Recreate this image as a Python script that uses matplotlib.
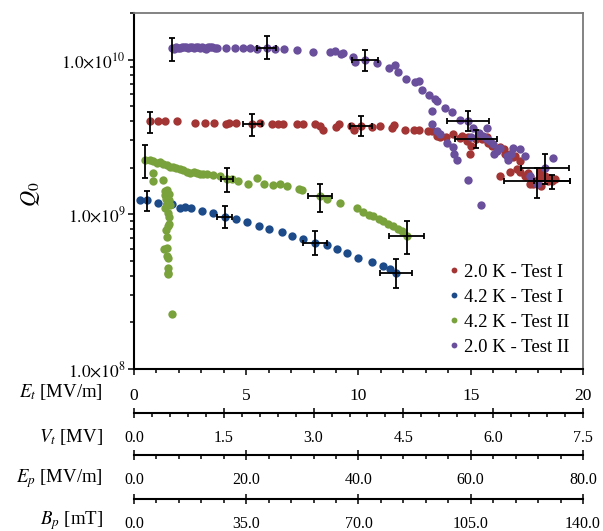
import numpy as np
import matplotlib
matplotlib.use("Agg")
import matplotlib.pyplot as plt
from matplotlib.ticker import MultipleLocator, FuncFormatter, LogLocator, NullFormatter

plt.rcParams['font.family'] = ['Liberation Serif', 'DejaVu Serif']
plt.rcParams['mathtext.fontset'] = 'stix'

# accelerating field E_t [MV/m] and Q0 (in units of 1e9)
e_red = [0.71, 1.07, 1.38, 1.92, 2.72, 3.16, 3.56, 4.10, 4.23, 4.54, 5.26, 5.61, 6.15, 6.41, 6.64,
         7.26, 7.53, 8.06, 8.29, 8.42, 9.00, 9.13, 9.67, 9.80, 10.11, 10.60, 10.96, 11.49, 11.58,
         12.07, 12.47, 12.69, 13.10, 13.27, 13.50, 13.63, 13.90, 14.21, 14.52, 14.61, 14.83, 14.88,
         15.01, 14.97, 15.23, 15.50, 15.72, 15.77, 15.95, 16.30, 16.48, 16.53, 16.75, 16.97, 16.88,
         17.06, 17.19, 17.19, 16.30, 16.75, 17.42, 17.55, 17.64, 17.77, 17.86, 17.95, 18.08, 18.08,
         18.31, 18.44, 18.53, 18.62, 18.75, 18.13, 17.64]
q_red = [3.98, 3.98, 3.98, 3.98, 3.92, 3.92, 3.92, 3.86, 3.92, 3.92, 3.86, 3.92, 3.86, 3.86, 3.81,
         3.86, 3.81, 3.81, 3.70, 3.53, 3.64, 3.81, 3.70, 3.53, 3.70, 3.64, 3.70, 3.59, 3.75,
         3.53, 3.53, 3.53, 3.43, 3.43, 3.23, 3.14, 3.14, 3.28, 3.10, 3.19, 2.96, 3.14,
         2.75, 2.44, 3.05, 3.05, 3.14, 2.87, 2.75, 2.71, 2.63, 2.44, 2.47, 2.37, 2.33,
         1.95, 2.20, 1.89, 1.76, 1.89, 1.76, 1.84, 1.73, 1.56, 1.63, 1.63, 1.73, 1.89,
         1.76, 1.63, 1.71, 1.63, 1.68, 1.52, 1.56]

e_blue = [0.27, 0.58, 1.07, 1.47, 1.69, 2.05, 2.27, 2.54, 3.03, 3.52, 4.05, 4.54, 5.03, 5.57, 6.01,
          6.59, 7.04, 7.53, 8.06, 8.60, 9.04, 9.49, 9.98, 10.60, 11.09, 11.40, 11.67]
q_blue = [1.23, 1.23, 1.18, 1.16, 1.16, 1.09, 1.11, 1.09, 1.045, 1.015, 0.957, 0.929, 0.888, 0.837, 0.80,
          0.766, 0.721, 0.690, 0.650, 0.631, 0.595, 0.560, 0.520, 0.490, 0.462, 0.442, 0.416]

e_green = [0.49, 0.71, 0.85, 1.02, 1.16, 1.29, 1.47, 1.60, 1.74, 1.87, 2.05, 2.18, 2.36, 2.49, 2.67,
           2.81, 2.94, 3.07, 3.25, 3.52, 3.83, 4.14, 4.37, 4.63, 5.08, 5.48, 5.79, 6.19, 6.50, 6.82,
           7.35, 7.48, 8.29, 8.60, 9.18, 9.93, 10.20, 10.47, 10.65, 10.91, 11.09, 11.31, 11.54, 11.76,
           11.94, 12.16,
           0.85, 0.85, 1.29, 1.38, 1.47, 1.38, 1.56, 1.43, 1.56, 1.47, 1.60, 1.38, 1.51, 1.56, 1.56,
           1.51, 1.43, 1.47, 1.34, 1.47, 1.47, 1.51, 1.51, 1.51, 1.51, 1.69]
q_green = [2.26, 2.23, 2.20, 2.13, 2.17, 2.10, 2.07, 2.01, 2.01, 1.98, 1.95, 1.92, 1.89, 1.84, 1.87,
           1.84, 1.81, 1.81, 1.81, 1.79, 1.76, 1.68, 1.68, 1.63, 1.58, 1.71, 1.58, 1.54, 1.56, 1.52,
           1.45, 1.43, 1.31, 1.25, 1.18, 1.09, 1.03, 0.985, 0.97, 0.929, 0.902, 0.862, 0.837, 0.80,
           0.777, 0.721,
           1.84, 1.63, 1.66, 1.41, 1.43, 1.33, 1.35, 1.25, 1.23, 1.16, 1.14, 1.09, 1.015, 0.957, 0.862,
           0.837, 0.789, 0.711, 0.595, 0.604, 0.536, 0.520, 0.449, 0.416, 0.410, 0.226]

e_purple = [1.69, 1.78, 1.87, 1.96, 2.05, 2.14, 2.23, 2.32, 2.41, 2.49, 2.58, 2.67, 2.76, 2.85, 2.94,
            3.03, 3.12, 3.21, 3.30, 3.39, 3.47, 3.61, 3.70, 4.10, 4.50, 4.86, 5.17, 5.48, 5.92, 6.28,
            6.68, 7.26, 7.97, 8.73, 8.95, 9.22, 9.31, 9.76, 9.84, 10.29, 10.82, 11.36, 11.63, 11.76,
            12.12, 12.52, 12.69, 12.83, 13.14, 13.41, 13.50, 13.85, 14.16, 13.27, 13.27, 13.50, 13.63,
            13.94, 14.21, 14.25, 14.39, 14.52, 14.88, 15.10, 15.72, 15.01, 15.37, 15.55, 15.72, 15.86,
            15.99, 16.04, 16.17, 16.30, 16.61, 16.79, 16.88, 17.19, 17.42, 16.66, 17.64, 17.95, 18.31,
            18.66, 14.88, 15.46]
q_purple = [11.95, 11.78, 12.13, 11.95, 11.95, 12.13, 12.13, 12.13, 11.95, 12.13, 12.13, 11.95, 12.13,
            12.13, 11.95, 12.13, 11.95, 11.78, 12.13, 12.13, 12.13, 11.95, 11.95, 11.95, 11.95, 11.95,
            11.95, 11.78, 11.95, 11.78, 11.78, 11.6, 11.26, 11.26, 11.43, 10.93, 11.10, 10.45, 9.71,
            10.0, 9.56, 8.88, 9.28, 8.37, 7.54, 7.11, 7.32, 6.40, 5.94, 5.60, 5.36, 4.90, 4.55, 4.62,
            3.81, 3.43, 3.28, 2.87, 2.71, 2.44, 2.23, 4.04, 3.98, 3.59, 3.59, 3.14, 3.33, 3.23, 3.05,
            2.96, 2.83, 2.47, 2.55, 2.67, 2.37, 2.47, 2.67, 2.63, 2.37, 2.26, 1.76, 1.58, 1.98, 2.30,
            1.66, 1.14]

# error bars: E_t, Q (1e9), E_t half width, Q lower end, Q upper end
eb_red = dict(e=[0.71, 5.26, 10.11, 15.23, 17.95, 18.62], q=[3.98, 3.86, 3.70, 3.05, 1.63, 1.63],
              xerr=[0.0, 0.42, 0.49, 0.94, 1.45, 0.78], qlo=[3.33, 3.23, 3.19, 2.67, 1.27, 1.45],
              qhi=[4.55, 4.42, 4.29, 3.53, 1.98, 1.80])
eb_blue = dict(e=[0.58, 4.05, 8.06, 11.67], q=[1.23, 0.957, 0.650, 0.416],
               xerr=[0.0, 0.33, 0.53, 0.71], qlo=[1.045, 0.813, 0.544, 0.333],
               qhi=[1.41, 1.13, 0.777, 0.513])
eb_green = dict(e=[0.49, 4.14, 8.29, 12.16], q=[2.26, 1.68, 1.31, 0.721],
                xerr=[0.0, 0.25, 0.53, 0.78], qlo=[1.71, 1.39, 1.03, 0.552],
                qhi=[2.79, 1.98, 1.56, 0.902])
eb_purple = dict(e=[1.69, 5.92, 10.29, 14.88, 18.31], q=[11.95, 11.95, 10.0, 3.98, 1.98],
                 xerr=[0.0, 0.42, 0.6, 0.94, 1.07], qlo=[9.85, 10.15, 8.49, 3.43, 1.58],
                 qhi=[13.87, 14.1, 11.6, 4.62, 2.44])

labels = ['2.0 K - Test I', '4.2 K - Test I', '4.2 K - Test II', '2.0 K - Test II']
colors = ['#a33535', '#1d4b8a', '#79a23c', '#6a4f9c']

fig = plt.figure(figsize=(6.03, 5.31), dpi=100)
ax = fig.add_axes([0.2222, 0.3051, 0.7446, 0.6704])

series = [(e_red, q_red), (e_blue, q_blue), (e_green, q_green), (e_purple, q_purple)]
for (e, q), lab, c in zip(series, labels, colors):
    ax.plot(e, np.array(q) * 1e9, 'o', ms=6, mew=0, color=c, label=lab)

for eb in [eb_red, eb_blue, eb_green, eb_purple]:
    q = np.array(eb['q']) * 1e9
    yerr = [q - np.array(eb['qlo']) * 1e9, np.array(eb['qhi']) * 1e9 - q]
    ax.errorbar(eb['e'], q, xerr=eb['xerr'], yerr=yerr, fmt='none', ecolor='black',
                elinewidth=1.3, capsize=2, capthick=1.3, zorder=5)

ax.set_yscale('log')
ax.set_ylim(1e8, 2e10)
ax.set_xlim(0, 20)
ax.yaxis.set_major_locator(LogLocator(base=10, numticks=5))
ax.yaxis.set_minor_locator(LogLocator(base=10, subs=np.arange(2, 10), numticks=12))
ax.yaxis.set_minor_formatter(NullFormatter())
ax.yaxis.set_major_formatter(FuncFormatter(lambda v, p: r'$1.0{\times}10^{%d}$' % round(np.log10(v))))
ax.xaxis.set_major_locator(MultipleLocator(5))
ax.xaxis.set_minor_locator(MultipleLocator(1))
ax.tick_params(which='both', direction='out', labelsize=12.5, width=1.1)
ax.tick_params(which='major', length=4.5)
ax.tick_params(which='minor', length=3)
ax.tick_params(axis='x', which='major', pad=9)
ax.tick_params(axis='y', which='major', pad=1.5)

for s in ['left', 'bottom']:
    ax.spines[s].set_linewidth(1.5)
for s in ['top', 'right']:
    ax.spines[s].set_color('#7a7a7a')
    ax.spines[s].set_linewidth(1.3)

ax.set_ylabel(r'$Q_0$', fontsize=16)
ax.yaxis.set_label_coords(-0.205, 0.49)

leg = ax.legend(loc='lower right', bbox_to_anchor=(1.0, 0.0), frameon=False, fontsize=13.5,
                handletextpad=0.05, handlelength=1.0, labelspacing=0.42, markerscale=0.7,
                borderaxespad=0.3)

# extra field scales below the plot
scales = [(-0.1236, 0.375, 1.5, 0.3, '%.1f'),
          (-0.2416, 4.0, 20.0, 4.0, '%.1f'),
          (-0.365, 7.0, 35.0, 7.0, '%.1f')]
for loc, k, major, minor, fmt in scales:
    sec = ax.secondary_xaxis(loc, functions=(lambda x, k=k: x * k, lambda x, k=k: x / k))
    sec.xaxis.set_major_locator(MultipleLocator(major))
    sec.xaxis.set_minor_locator(MultipleLocator(minor))
    sec.xaxis.set_major_formatter(FuncFormatter(lambda v, p, fmt=fmt: fmt % v))
    sec.spines['bottom'].set_linewidth(1.5)
    sec.tick_params(which='both', labelsize=11.5, width=1.1)
    sec.tick_params(which='major', direction='inout', length=7, pad=9)
    sec.tick_params(which='minor', direction='out', length=3)

row_names = [r'$E_t$ [MV/m]', r'$V_t$ [MV]', r'$E_p$ [MV/m]', r'$B_p$ [mT]']
row_y = [392, 437, 479, 521]
for name, y in zip(row_names, row_y):
    fig.text(103 / 603, 1 - y / 531, name, ha='right', va='center', fontsize=13.5)

fig.savefig('out.png', dpi=100)
